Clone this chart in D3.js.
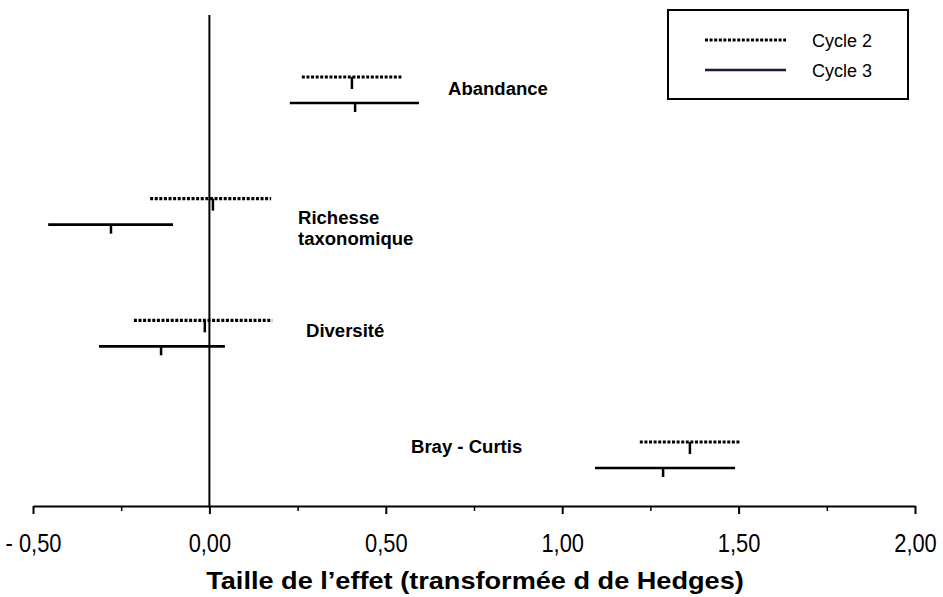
<!DOCTYPE html>
<html><head><meta charset="utf-8">
<script src="https://cdn.jsdelivr.net/npm/d3@7"></script>
<style>body{margin:0;background:#fff}svg{display:block}text{font-family:Arial,"Liberation Sans",sans-serif}</style>
</head><body>
<svg id="c" width="943" height="597"></svg>
<script>
const categories = ["Abandance", "Richesse taxonomique", "Diversité", "Bray - Curtis"];
const cycle2Low  = [0.262, -0.168, -0.214, 1.220];
const cycle2Mean = [0.404,  0.010, -0.013, 1.362];
const cycle2High = [0.549,  0.175,  0.178, 1.507];
const cycle3Low  = [0.228, -0.457, -0.313, 1.093];
const cycle3Mean = [0.413, -0.279, -0.137, 1.286];
const cycle3High = [0.594, -0.103,  0.044, 1.490];
const xTicks = [-0.5, 0, 0.5, 1, 1.5, 2];
const xMinorTicks = [-0.25, 0.25, 0.75, 1.25, 1.75];
const seriesNames = ["Cycle 2", "Cycle 3"];
const xTitle = "Taille de l\u2019effet (transformée d de Hedges)";

const svg = d3.select("#c");
const x = d3.scaleLinear().domain([-0.5, 2]).range([33, 915]);
const y = d3.scalePoint().domain(categories).range([90, 455]);
const axisY = 506;

function stretchedText(g, px, py, str, size, sx, opts = {}) {
  return g.append("text").attr("transform", `translate(${px},${py}) scale(${sx},1)`)
    .attr("font-size", size).attr("font-weight", opts.bold ? "bold" : "normal")
    .attr("text-anchor", opts.anchor || "start").text(str);
}

// vertical zero line
svg.append("line").attr("x1", x(0)).attr("x2", x(0)).attr("y1", 15).attr("y2", axisY)
  .attr("stroke", "#000").attr("stroke-width", 2);

// x axis
const fmt = d => (d < 0 ? "- " : "") + d3.format(".2f")(Math.abs(d)).replace(".", ",");
const axis = d3.axisBottom(x).tickValues(xTicks).tickSize(8).tickSizeOuter(0).tickFormat(fmt);
const gA = svg.append("g").attr("transform", `translate(0,${axisY})`).call(axis);
gA.select(".domain").attr("stroke-width", 2);
gA.selectAll(".tick line").attr("stroke-width", 2);
gA.selectAll(".tick text").attr("font-size", 25).attr("y", 0).attr("dy", 46).attr("fill", "#000")
  .attr("transform", "scale(0.875,1)")
  .attr("font-family", "Arial, 'Liberation Sans', sans-serif");
const axisMinor = d3.axisBottom(x).tickValues(xMinorTicks).tickSize(5).tickFormat("");
const gM = svg.append("g").attr("transform", `translate(0,${axisY})`).call(axisMinor);
gM.select(".domain").remove();
gM.selectAll(".tick line").attr("stroke-width", 1.5);

stretchedText(svg, 475, 589, xTitle, 23, 1.18, {bold: true, anchor: "middle"});

// series
const series = [
  {name: seriesNames[0], low: cycle2Low, mean: cycle2Mean, high: cycle2High, off: -13, dash: "3,1.6", w: 3.2, tick: 12},
  {name: seriesNames[1], low: cycle3Low, mean: cycle3Mean, high: cycle3High, off: 13, dash: null, w: 2.6, tick: 9}
];
series.forEach(s => {
  const g = svg.append("g");
  categories.forEach((c, i) => {
    const yy = y(c) + s.off;
    const l = g.append("line").attr("x1", x(s.low[i])).attr("x2", x(s.high[i]))
      .attr("y1", yy).attr("y2", yy).attr("stroke", "#000").attr("stroke-width", s.w);
    if (s.dash) l.attr("stroke-dasharray", s.dash);
    g.append("line").attr("x1", x(s.mean[i])).attr("x2", x(s.mean[i]))
      .attr("y1", yy).attr("y2", yy + s.tick).attr("stroke", "#000").attr("stroke-width", 2.5);
  });
});

// category labels
const labelPos = [
  {x: 448, y: 95},
  {x: 298, y: 224},
  {x: 306, y: 337},
  {x: 411, y: 453}
];
categories.forEach((c, i) => {
  const p = labelPos[i];
  const parts = c === "Richesse taxonomique" ? ["Richesse", "taxonomique"] : [c];
  parts.forEach((ln, j) => stretchedText(svg, p.x, p.y + j * 21, ln, 18, 1.03, {bold: true}));
});

// legend
const lg = svg.append("g");
lg.append("rect").attr("x", 668).attr("y", 10).attr("width", 240).attr("height", 89)
  .attr("fill", "#fff").attr("stroke", "#000").attr("stroke-width", 2);
series.forEach((s, i) => {
  const yy = 40 + i * 30;
  const l = lg.append("line").attr("x1", 705).attr("x2", 786).attr("y1", yy).attr("y2", yy)
    .attr("stroke", i ? "#1a1a3a" : "#000").attr("stroke-width", s.w);
  if (s.dash) l.attr("stroke-dasharray", s.dash);
  lg.append("text").attr("x", 812).attr("y", yy + 7).attr("font-size", 18).text(s.name);
});
</script>
</body></html>
